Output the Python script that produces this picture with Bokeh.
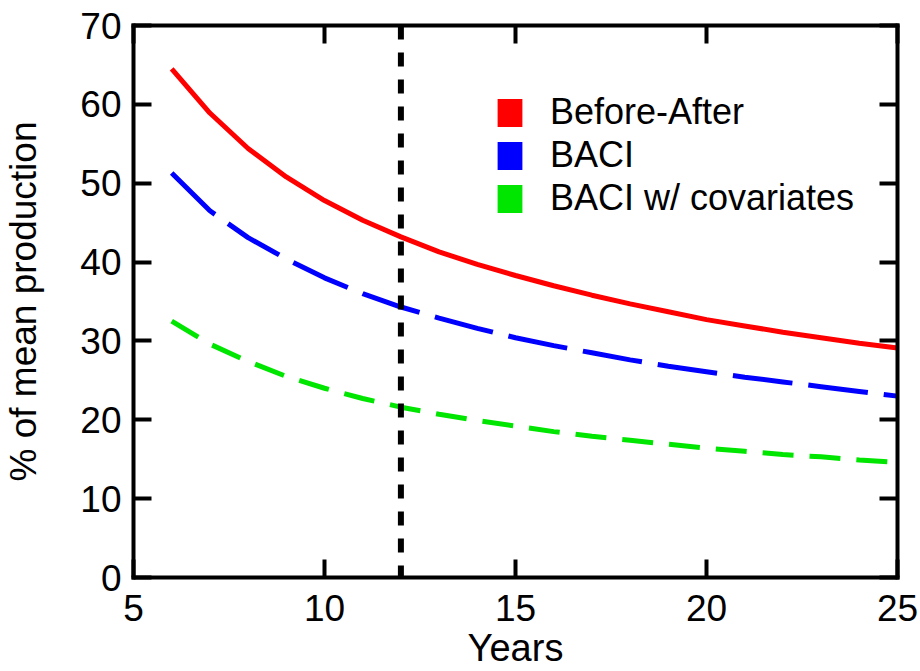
from bokeh.plotting import figure
from bokeh.models import (Range1d, FixedTicker, LinearAxis, CustomJSTickFormatter,
                          Span, Legend, LegendItem, ColumnDataSource)
from bokeh.embed import file_html
from bokeh.resources import INLINE

years = [6, 7, 8, 9, 10, 11, 12, 13, 14, 15, 16, 17, 18, 19, 20, 21, 22, 23, 24, 25]
before_after = [64.5, 58.9, 54.4, 50.8, 47.8, 45.3, 43.2, 41.3, 39.7, 38.3,
                37.0, 35.8, 34.7, 33.7, 32.7, 31.9, 31.1, 30.4, 29.7, 29.1]
baci = [51.3, 46.5, 43.1, 40.4, 38.0, 36.0, 34.3, 32.9, 31.6, 30.4,
        29.4, 28.5, 27.6, 26.8, 26.1, 25.4, 24.8, 24.2, 23.6, 23.0]
baci_cov = [32.5, 29.6, 27.4, 25.5, 24.0, 22.7, 21.6, 20.7, 19.9, 19.2,
            18.5, 17.9, 17.4, 16.9, 16.4, 16.0, 15.6, 15.3, 14.9, 14.6]
cutoff_year = 12
x_ticks = [5, 10, 15, 20, 25]
y_ticks = [0, 10, 20, 30, 40, 50, 60, 70]
series_names = ["Before-After", "BACI", "BACI w/ covariates"]
colors = ["#FF0000", "#0000FF", "#00E600"]
dashes = ["solid", "60 16", "31 16"]

FONT = "Liberation Sans"

p = figure(width=920, height=671, output_backend="svg", toolbar_location=None,
           x_range=Range1d(5, 25), y_range=Range1d(0, 70),
           x_axis_location=None, y_axis_location=None,
           min_border_left=132, min_border_top=25, min_border_right=23, min_border_bottom=94)
p.outline_line_color = None
p.xgrid.visible = False
p.ygrid.visible = False
p.background_fill_color = "white"
p.border_fill_color = "white"

def style_axis(ax, labels=True):
    ax.axis_line_width = 4
    ax.axis_line_color = "black"
    ax.axis_line_cap = "square"
    ax.major_tick_line_width = 4
    ax.major_tick_line_color = "black"
    ax.major_tick_in = 18
    ax.major_tick_out = 0
    ax.minor_tick_line_color = None
    ax.major_label_text_font = FONT
    ax.major_label_text_color = "black"
    if labels:
        ax.major_label_text_font_size = "37px"
    else:
        ax.formatter = CustomJSTickFormatter(code="return ''")
        ax.major_label_text_font_size = "1px"
        ax.major_label_standoff = 0

xb = LinearAxis(ticker=FixedTicker(ticks=x_ticks), axis_label="Years")
style_axis(xb)
xb.major_label_standoff = 17
xb.axis_label_text_font = FONT
xb.axis_label_text_font_size = "38px"
xb.axis_label_text_font_style = "normal"
xb.axis_label_text_color = "black"
xb.axis_label_standoff = 3
p.add_layout(xb, "below")

yl = LinearAxis(ticker=FixedTicker(ticks=y_ticks), axis_label="% of mean production")
style_axis(yl)
yl.major_label_standoff = 12
yl.axis_label_text_font = FONT
yl.axis_label_text_font_size = "37px"
yl.axis_label_text_font_style = "normal"
yl.axis_label_text_color = "black"
yl.axis_label_standoff = 33
p.add_layout(yl, "left")

xt = LinearAxis(ticker=FixedTicker(ticks=x_ticks))
style_axis(xt, labels=False)
p.add_layout(xt, "above")
yr = LinearAxis(ticker=FixedTicker(ticks=y_ticks))
style_axis(yr, labels=False)
p.add_layout(yr, "right")

src = ColumnDataSource(dict(years=years, ba=before_after, baci=baci, cov=baci_cov))
items = []
for col, name, c, d in zip(["ba", "baci", "cov"], series_names, colors, dashes):
    p.line("years", col, source=src, line_color=c, line_width=5, line_dash=d)
    # zero-size rects on the same data: invisible in the plot, give a square legend swatch
    sw = p.rect("years", col, source=src, width=0, height=0, fill_color=c, line_color=None)
    items.append(LegendItem(label=name, renderers=[sw]))

p.add_layout(Span(location=cutoff_year, dimension="height", line_color="black",
                  line_width=6, line_dash="14 13"))

legend = Legend(items=items, location=(361, 358), orientation="vertical",
                border_line_color=None, background_fill_alpha=0,
                padding=0, margin=0, spacing=1,
                glyph_width=31, glyph_height=35, label_standoff=25,
                label_text_font=FONT, label_text_font_size="36px",
                label_text_color="black")
p.add_layout(legend, "center")

open("out.html", "w").write(file_html(p, INLINE))
